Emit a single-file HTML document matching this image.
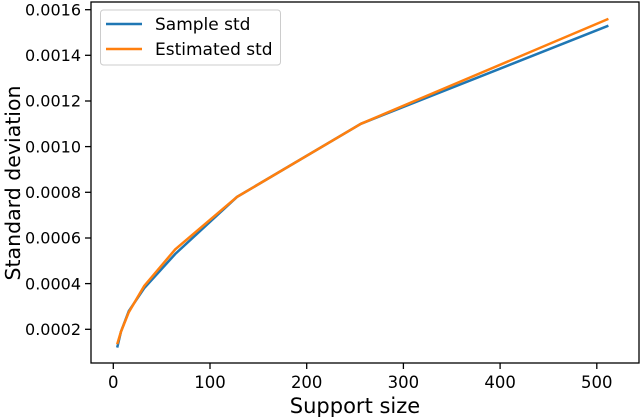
<!DOCTYPE html><html><head><style>body{margin:0;background:#fff}svg{display:block}text{font-family:"DejaVu Sans","Liberation Sans",sans-serif;fill:#000}</style></head><body>
<svg width="640" height="417" viewBox="0 0 640 417">
<g stroke="#000" stroke-width="1.3">
<line x1="85" y1="329.3" x2="91" y2="329.3"/><line x1="85" y1="283.6" x2="91" y2="283.6"/><line x1="85" y1="238" x2="91" y2="238"/><line x1="85" y1="192.3" x2="91" y2="192.3"/><line x1="85" y1="146.6" x2="91" y2="146.6"/><line x1="85" y1="101" x2="91" y2="101"/><line x1="85" y1="55.3" x2="91" y2="55.3"/><line x1="85" y1="9.7" x2="91" y2="9.7"/>
<line x1="113.3" y1="363" x2="113.3" y2="369"/><line x1="210" y1="363" x2="210" y2="369"/><line x1="306.7" y1="363" x2="306.7" y2="369"/><line x1="403.4" y1="363" x2="403.4" y2="369"/><line x1="500.1" y1="363" x2="500.1" y2="369"/><line x1="596.8" y1="363" x2="596.8" y2="369"/>
</g>
<g font-size="16" text-anchor="end">
<text x="81" y="335">0.0002</text><text x="81" y="289.3">0.0004</text><text x="81" y="243.7">0.0006</text><text x="81" y="198">0.0008</text><text x="81" y="152.3">0.0010</text><text x="81" y="106.7">0.0012</text><text x="81" y="61">0.0014</text><text x="81" y="15.4">0.0016</text>
</g>
<g font-size="16.5" text-anchor="middle">
<text x="113.3" y="388">0</text><text x="210" y="388">100</text><text x="306.7" y="388">200</text><text x="403.4" y="388">300</text><text x="500.1" y="388">400</text><text x="596.8" y="388">500</text>
</g>
<text x="355" y="413" font-size="21" text-anchor="middle">Support size</text>
<text transform="translate(20,183) rotate(-90)" font-size="20.5" text-anchor="middle">Standard deviation</text>
<polyline fill="none" stroke="#1f77b4" stroke-width="2.5" points="117.2,347.6 121,331.6 128.8,311.1 144.2,288.2 175.2,254 237,196.9 360.9,123.8 608.4,25.7"/>
<polyline fill="none" stroke="#ff7f0e" stroke-width="2.5" points="117.2,344.2 121,331.6 128.8,312.2 144.2,286 175.2,249.4 237,196.9 360.9,123.8 608.4,18.9"/>
<rect x="91" y="2" width="548" height="361" fill="none" stroke="#000" stroke-width="1.3"/>
<rect x="100.5" y="10" width="180" height="55" rx="3" fill="#fff" stroke="#ccc" stroke-width="1"/>
<line x1="106" y1="24" x2="142" y2="24" stroke="#1f77b4" stroke-width="2.5"/>
<line x1="106" y1="49" x2="142" y2="49" stroke="#ff7f0e" stroke-width="2.5"/>
<text x="155" y="30" font-size="17">Sample std</text>
<text x="155" y="55" font-size="17">Estimated std</text>
</svg></body></html>
